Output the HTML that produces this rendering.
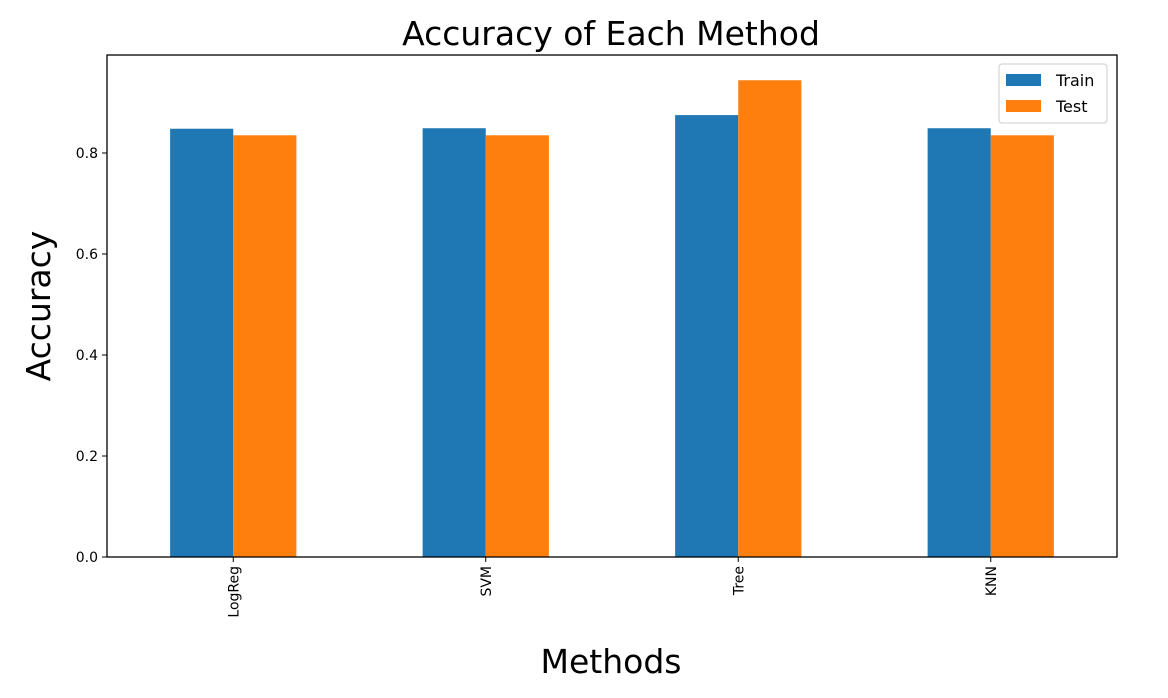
<!DOCTYPE html>
<html><head><meta charset="utf-8"><style>
body{margin:0;background:#fff;}
svg{display:block;font-family:"DejaVu Sans","Liberation Sans",sans-serif;}
</style></head><body>
<svg id="chart" width="1168" height="698">
<text x="611" y="45" font-size="33" text-anchor="middle" fill="#000">Accuracy of Each Method</text>
<text x="611" y="673" font-size="33" text-anchor="middle" fill="#000">Methods</text>
<text transform="translate(50,306) rotate(-90)" font-size="33" text-anchor="middle" fill="#000">Accuracy</text>
<g id="bars"></g><g id="ticks"></g>
<rect x="107" y="55" width="1010" height="502" fill="none" stroke="#000" stroke-width="1.3"/>
<g>
<rect x="999" y="64" width="108" height="59" rx="3" fill="#fff" fill-opacity="0.8" stroke="#ccc"/>
<rect x="1006" y="74" width="35" height="12" fill="#1f77b4"/>
<text x="1056" y="86" font-size="16">Train</text>
<rect x="1006" y="100" width="35" height="12" fill="#ff7f0e"/>
<text x="1056" y="112" font-size="16">Test</text>
</g>
</svg>
<script>
const categories=["LogReg","SVM","Tree","KNN"];
const trainValues=[0.848,0.849,0.875,0.849];
const testValues=[0.835,0.835,0.944,0.835];
const yTicks=[0.0,0.2,0.4,0.6,0.8];
const NS="http://www.w3.org/2000/svg";
const L=107,R=1117,B=557,T=55,ymax=0.994;
const y=v=>B-(v/ymax)*(B-T);
const step=(R-L)/categories.length;
const cx=i=>L+step*(i+0.5);
const bw=step*0.25;
const bars=document.getElementById('bars'),ticks=document.getElementById('ticks');
function mk(t,a,p){const e=document.createElementNS(NS,t);for(const k in a)e.setAttribute(k,a[k]);p.appendChild(e);return e;}
categories.forEach((c,i)=>{
 const r1=mk('rect',{x:cx(i)-bw,y:y(trainValues[i]),width:bw,height:B-y(trainValues[i]),fill:'#1f77b4'},bars);
 
 
 const r2=mk('rect',{x:cx(i),y:y(testValues[i]),width:bw,height:B-y(testValues[i]),fill:'#ff7f0e'},bars);
 
 
 const tk=mk('line',{x1:cx(i),x2:cx(i),y1:B,y2:B+5,stroke:'#000'},ticks);
 
 
 const t=mk('text',{transform:`translate(${cx(i)+5},${B+9}) rotate(-90)`,'font-size':14,'text-anchor':'end'},ticks);
 t.textContent=c;
 
 
});
yTicks.forEach(v=>{
 const tk=mk('line',{x1:L-5,x2:L,y1:y(v),y2:y(v),stroke:'#000'},ticks);
 
 
 const t=mk('text',{x:L-9,y:y(v)+5,'font-size':14,'text-anchor':'end'},ticks);
 t.textContent=v.toFixed(1);
 
 
});
</script>
</body></html>
